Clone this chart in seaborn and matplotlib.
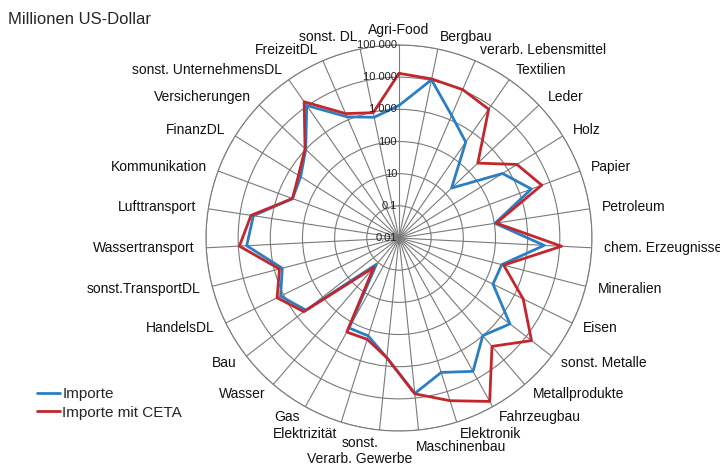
import numpy as np
import pandas as pd
import matplotlib
matplotlib.use("Agg")
import matplotlib.pyplot as plt
import matplotlib.transforms as mtransforms
import seaborn as sns

# Kategorien im Uhrzeigersinn, beginnend oben
categories = ["Agri-Food", "Bergbau", "verarb. Lebensmittel", "Textilien", "Leder", "Holz",
              "Papier", "Petroleum", "chem. Erzeugnisse", "Mineralien", "Eisen",
              "sonst. Metalle", "Metallprodukte", "Fahrzeugbau", "Elektronik", "Maschinenbau",
              "sonst.\nVerarb. Gewerbe", "Elektrizität", "Gas", "Wasser", "Bau", "HandelsDL",
              "sonst.TransportDL", "Wassertransport", "Lufttransport", "Kommunikation",
              "FinanzDL", "Versicherungen", "sonst. UnternehmensDL", "FreizeitDL", "sonst. DL"]

importe = [132, 1050, 141, 43, 1.8, 62, 245, 10.5, 330, 20, 18, 230, 100, 550, 240, 720,
           55, 15.5, 15.8, 0.12, 46, 126, 56, 550, 380, 34, 40, 100, 1050, 126, 68]
importe_ceta = [1320, 1120, 1050, 760, 24, 210, 540, 11.5, 1150, 23, 200, 1620, 275, 6460, 2000, 740,
                55, 20, 22, 0.16, 55, 166, 69, 930, 450, 34, 48, 107, 1450, 162, 95]

ring_values = [0.01, 0.1, 1, 10, 100, 1000, 10000]
ring_labels = ["0.01", "0.1", "10", "100", "1 000", "10 000", "100 000"]

series_names = ["Importe", "Importe mit CETA"]
colors = {"Importe": "#2B7EC1", "Importe mit CETA": "#C1272D"}

# long format, Kreis schliessen
n = len(categories)
theta = np.linspace(0, 2 * np.pi, n, endpoint=False)
rows = []
for name, vals in zip(series_names, [importe, importe_ceta]):
    for t, v in zip(list(theta) + [2 * np.pi], list(vals) + [vals[0]]):
        rows.append({"theta": t, "value": v, "Serie": name})
df = pd.DataFrame(rows)

sns.set_style("white")
plt.rcParams["font.family"] = ["Liberation Sans", "DejaVu Sans"]

fig = plt.figure(figsize=(7.2, 4.69), dpi=100)
ax = fig.add_axes([0.2861, 0.081, 0.5361, 0.823], projection="polar")
ax.set_theta_zero_location("N")
ax.set_theta_direction(-1)
ax.set_rlim(0.01, 10000)
ax.set_rscale("log")

sns.lineplot(data=df, x="theta", y="value", hue="Serie", palette=colors, sort=False,
             estimator=None, linewidth=2.0, ax=ax)
ax.set_rlim(0.01, 10000)

handles, labels = ax.get_legend_handles_labels()
ax.get_legend().remove()
ax.set_xlabel("")
ax.set_ylabel("")

# Gitter
ax.set_xticks(theta)
ax.set_xticklabels([])
ax.set_yticks(ring_values[1:])
ax.set_yticklabels([])
ax.yaxis.set_minor_locator(matplotlib.ticker.NullLocator())
ax.grid(True, color="#7a7a7a", linewidth=0.8)
ax.spines["polar"].set_color("#7a7a7a")
ax.spines["polar"].set_linewidth(0.8)

# Achsenbeschriftung der Skala
shift = mtransforms.offset_copy(ax.transData, fig=fig, x=-2, y=0, units="dots")
for v, lab in zip(ring_values, ring_labels):
    ax.text(0, v, lab, transform=shift, ha="right", va="center", fontsize=8, color="#222222")

# Kategorien
d = 8.6
for t, lab in zip(theta, categories):
    s, c = np.sin(t), np.cos(t)
    ha = "left" if s > 0.05 else ("right" if s < -0.05 else "center")
    kw = dict(ha=ha, va="center", xytext=(d * s, d * c))
    if c > 0.995:
        kw = dict(ha="center", va="bottom", xytext=(0, 6))
    elif c < -0.98:
        kw = dict(ha=ha, va="top", xytext=(d * s - 3, -7.5))
    if "\n" in lab:
        kw = dict(ha="center", va="top", xytext=(-14, -4.5), multialignment="center")
    ax.annotate(lab, xy=(t, 10000), textcoords="offset points", fontsize=10,
                color="#111111", annotation_clip=False, **kw)

fig.text(8 / 720, 1 - 19 / 469, "Millionen US-Dollar", ha="left", va="center", fontsize=12)

fig.legend(handles, labels, loc="upper left", bbox_to_anchor=(37 / 720, (469 - 387) / 469),
           frameon=False, fontsize=11, handlelength=1.5, handletextpad=0.15,
           labelspacing=0.3, borderpad=0, borderaxespad=0)

fig.savefig("out.png", dpi=100)
